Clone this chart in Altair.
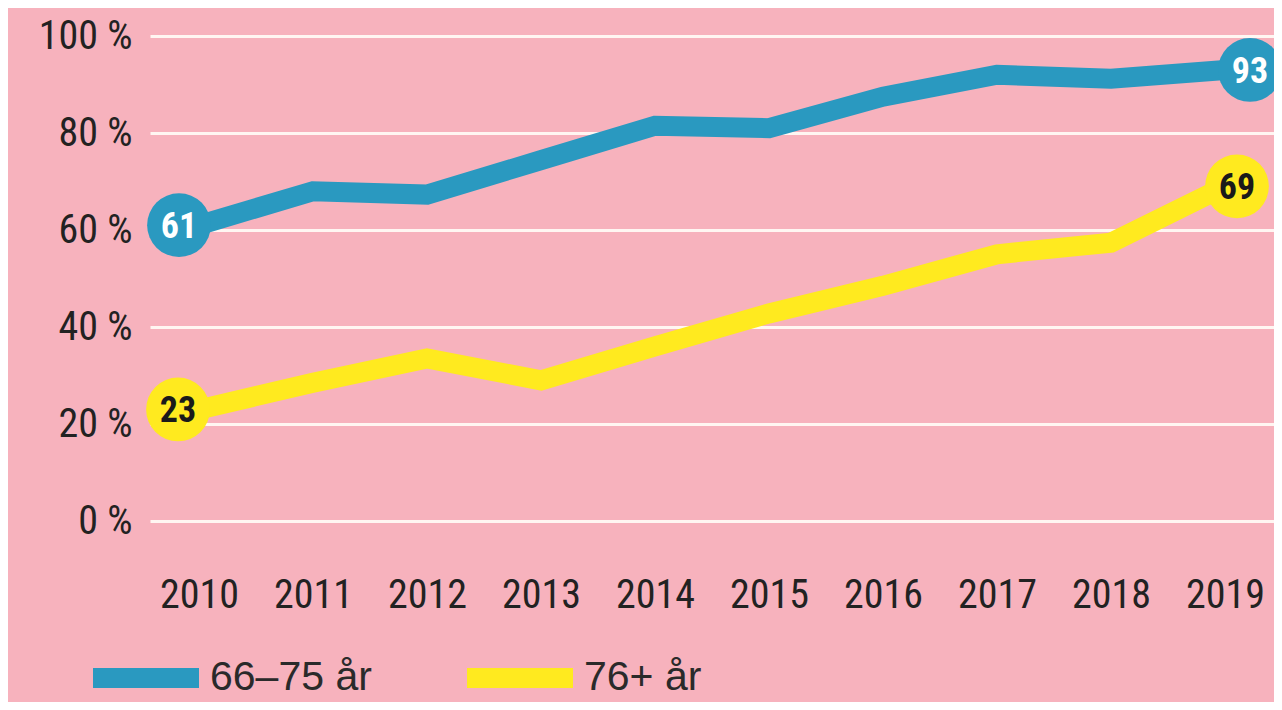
import altair as alt
import pandas as pd

years = [2010, 2011, 2012, 2013, 2014, 2015, 2016, 2017, 2018, 2019]
series_names = ["66–75 år", "76+ år"]
values_6675 = [61, 68, 67.3, 74.4, 81.5, 81, 87.5, 92, 91.2, 93]
values_76 = [23, 28.5, 33.5, 29, 36, 42.8, 48.5, 55, 57.4, 69]
y_ticks = [0, 20, 40, 60, 80, 100]

colors = ["#2A99C0", "#FFEA1F"]
label_colors = ["#FFFFFF", "#1A1A1A"]
BG = "#F7B2BD"
NARROW = "Roboto Condensed, Noto Sans Condensed, Liberation Sans Narrow, DejaVu Sans Condensed, sans-serif"
REG = "Liberation Sans, Arial, sans-serif"

rows = []
for name, vals in zip(series_names, [values_6675, values_76]):
    for yr, v in zip(years, vals):
        rows.append({"year": yr, "serie": name, "value": v})
df = pd.DataFrame(rows)

x = alt.X(
    "year:O",
    scale=alt.Scale(padding=0.43),
    axis=alt.Axis(
        title=None, labelAngle=0, domain=False, ticks=False, tickSize=0, grid=False,
        labelPadding=54, labelFont=NARROW, labelFontSize=40, labelColor="#222222",
    ),
)
y = alt.Y(
    "value:Q",
    scale=alt.Scale(domain=[0, 100], nice=False),
    axis=alt.Axis(
        values=y_ticks, title=None, labelExpr="datum.value + ' %'", domain=False,
        ticks=False, tickSize=0, labelPadding=18, grid=True, gridColor="#FFF6F2",
        gridWidth=3, gridOpacity=1, labelFont=NARROW, labelFontSize=40,
        labelColor="#222222",
    ),
)

base = alt.Chart(df)

lines = base.mark_line(strokeWidth=20, strokeJoin="miter", strokeCap="butt").encode(
    x=x,
    y=y,
    color=alt.Color(
        "serie:N",
        scale=alt.Scale(domain=series_names, range=colors),
        sort=series_names,
        legend=alt.Legend(
            title=None, orient="none", legendX=-67, legendY=579, direction="horizontal",
            symbolType="stroke", symbolSize=11236, symbolStrokeWidth=20, symbolOpacity=1,
            labelFont=REG, labelFontSize=41, labelColor="#2A2A2A", labelOffset=1,
            columnPadding=55, padding=0, labelLimit=400,
        ),
    ),
)

layers = [lines]
markers = [
    (2010, 0, -20),
    (2010, 1, -21),
    (2019, 0, 25),
    (2019, 1, 12),
]
for yr, si, dx in markers:
    d = base.transform_filter(
        (alt.datum.year == yr) & (alt.datum.serie == series_names[si])
    )
    circ = d.mark_circle(size=4070, opacity=1, color=colors[si], xOffset=dx).encode(
        x=alt.X("year:O"), y=alt.Y("value:Q")
    )
    txt = d.mark_text(
        font=NARROW, fontSize=36, fontWeight="bold", color=label_colors[si],
        xOffset=dx, dy=2, baseline="middle", align="center",
    ).encode(
        x=alt.X("year:O"), y=alt.Y("value:Q"), text=alt.Text("value:Q", format=".0f")
    )
    layers += [circ, txt]

chart = alt.layer(*layers).properties(
    width=1124,
    height=485,
    padding={"left": 142, "top": 28, "right": 0, "bottom": 181},
    autosize=alt.AutoSizeParams(type="none"),
    background=BG,
).configure_view(stroke=None)

chart.save("out.html", embed_options={"renderer": "svg", "actions": False})
